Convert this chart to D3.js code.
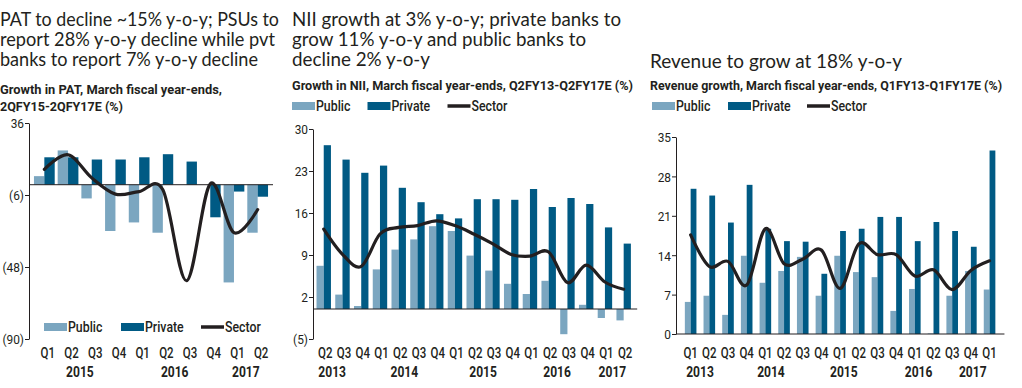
<!DOCTYPE html>
<html>
<head>
<meta charset="utf-8">
<script src="https://cdn.jsdelivr.net/npm/d3@7"></script>
<style>
  body { margin: 0; background: #fff; }
  svg { display: block; }
  .title { font-family: Lato, "Noto Sans", sans-serif; font-size: 19.5px; fill: #231f20; }
  .sub { font-family: Roboto, sans-serif; font-size: 13px; font-weight: bold; fill: #231f20; }
  .tick text { font-family: Roboto, sans-serif; font-size: 13.5px; fill: #231f20; }
  .qlab, .leg { font-family: Roboto, sans-serif; font-size: 14px; font-weight: 500; fill: #231f20; }
  .year { font-family: Roboto, sans-serif; font-size: 14px; font-weight: bold; fill: #231f20; }
</style>
</head>
<body>
<svg id="chart" width="1022" height="388"></svg>
<script>
"use strict";
// ---- PAT growth (%), 2QFY15-2QFY17E
const patQuarters = ["Q1","Q2","Q3","Q4","Q1","Q2","Q3","Q4","Q1","Q2"];
const patPublic  = [5, 20, -8, -27, -22, -28, 0, 0, -57, -28];
const patPrivate = [16, 16, 14.7, 14.7, 16, 17.8, 13.5, -19, -4, -7];
const patSector  = [9, 17.5, 4, -5.5, -4, -3, -56, 0.5, -28, -14.5];
const patYears   = ["2015", "2016", "2017"];
const patYearAt  = [1.5, 5.5, 8.5];
const patTicks   = [36, -6, -48, -90];

// ---- NII growth (%), Q2FY13-Q2FY17E
const niiQuarters = ["Q2","Q3","Q4","Q1","Q2","Q3","Q4","Q1","Q2","Q3","Q4","Q1","Q2","Q3","Q4","Q1","Q2"];
const niiPublic  = [7.2, 2.4, 0.5, 6.6, 9.9, 11.6, 13.8, 13.0, 8.9, 6.4, 4.2, 2.5, 4.7, -4.2, 0.7, -1.5, -1.9];
const niiPrivate = [27.3, 24.9, 22.7, 23.9, 20.2, 17.8, 15.8, 15.1, 18.3, 18.3, 18.2, 20.0, 17.0, 18.5, 17.5, 13.6, 10.9];
const niiSector  = [13.3, 9.1, 7.1, 12.5, 13.6, 13.9, 14.7, 13.9, 12.5, 10.9, 9.1, 8.8, 9.5, 4.4, 7.3, 4.5, 3.3];
const niiYears   = ["2013", "2014", "2015", "2016", "2017"];
const niiYearAt  = [0.45, 4.3, 8.5, 12.45, 15.4];
const niiTicks   = [30, 23, 16, 9, 2, -5];

// ---- Revenue growth (%), Q1FY13-Q1FY17E
const revQuarters = ["Q1","Q2","Q3","Q4","Q1","Q2","Q3","Q4","Q1","Q2","Q3","Q4","Q1","Q2","Q3","Q4","Q1"];
const revPublic  = [5.7, 6.8, 3.4, 13.9, 9.1, 11.2, 13.7, 6.8, 13.9, 11.0, 10.1, 4.1, 8.0, 0.1, 6.8, 11.2, 7.9];
const revPrivate = [25.8, 24.6, 19.8, 26.5, 18.7, 16.5, 16.4, 10.7, 18.3, 18.7, 20.8, 20.8, 16.5, 19.9, 18.3, 15.5, 32.6];
const revSector  = [17.6, 12.0, 12.9, 8.7, 18.7, 12.5, 13.3, 14.9, 8.1, 16.0, 14.1, 14.1, 10.3, 11.4, 7.9, 11.3, 13.0];
const revYears   = ["2013", "2014", "2015", "2016", "2017"];
const revYearAt  = [0.5, 4.3, 8.2, 12.2, 15.1];
const revTicks   = [35, 28, 21, 14, 7, 0];

const seriesNames = ["Public", "Private", "Sector"];
const colors = { Public: "#7ba6c0", Private: "#005a84", Sector: "#231f20" };

const svg = d3.select("#chart");
const fmt = v => v < 0 ? "(" + Math.abs(v) + ")" : String(v);

// the source uses a condensed face; squeeze the installed one to match
function squeeze(sel, f) {
  sel.each(function () {
    const w = this.getComputedTextLength();
    d3.select(this).attr("textLength", w * f).attr("lengthAdjust", "spacingAndGlyphs");
  });
}
function fitTo(sel, widths) {
  sel.each(function (d, i) {
    if (widths[i]) d3.select(this).attr("textLength", widths[i]).attr("lengthAdjust", "spacingAndGlyphs");
  });
}

function drawPanel(cfg) {
  const g = svg.append("g");
  const n = cfg.quarters.length;
  const idx = d3.range(n);

  // title + subtitle, one text per line
  cfg.title.forEach((line, i) => {
    const t = g.append("text").attr("class", "title")
      .attr("x", cfg.tx).attr("y", cfg.ty + i * 19.8).text(line);
    fitTo(t, [cfg.tw[i]]);
  });
  cfg.sub.forEach((line, i) => {
    const s = g.append("text").attr("class", "sub")
      .attr("x", cfg.tx).attr("y", cfg.sy + i * 16.5).text(line);
    fitTo(s, [cfg.sw[i]]);
  });

  const x = d3.scaleBand().domain(idx).range(cfg.xr).padding(cfg.pad);
  const x1 = d3.scaleBand().domain(["Public", "Private"]).range([0, x.bandwidth()]);
  const y = d3.scaleLinear().domain(cfg.yd).range(cfg.yr);
  const cx = i => x(0) + x.bandwidth() / 2 + i * x.step();

  // y axis
  g.append("g")
    .attr("transform", `translate(${cfg.ax},0)`)
    .call(d3.axisLeft(y).tickValues(cfg.ticks).tickFormat(fmt).tickSize(4).tickSizeOuter(0))
    .call(a => a.select(".domain").attr("stroke", "#231f20"))
    .call(a => a.selectAll(".tick line").attr("stroke", "#231f20"))
    .call(a => a.selectAll(".tick text").attr("x", -5).attr("dy", "0.36em"))
    .call(a => squeeze(a.selectAll(".tick text"), 0.88));

  // bars
  const bars = [["Public", cfg.pub], ["Private", cfg.pri]];
  bars.forEach(([name, vals]) => {
    g.append("g").selectAll("rect").data(vals).join("rect")
      .attr("x", (d, i) => x(i) + x1(name))
      .attr("width", x1.bandwidth())
      .attr("y", d => y(Math.max(0, d)))
      .attr("height", d => Math.abs(y(d) - y(0)))
      .attr("fill", colors[name]);
  });

  // zero line
  g.append("line")
    .attr("x1", cfg.ax).attr("x2", cfg.xr[1] + 2)
    .attr("y1", y(0)).attr("y2", y(0))
    .attr("stroke", "#231f20").attr("stroke-width", 1);

  // sector line
  const line = d3.line().x((d, i) => cx(i)).y(d => y(d)).curve(d3.curveCardinal);
  g.append("path").datum(cfg.sec)
    .attr("d", line).attr("fill", "none")
    .attr("stroke", colors.Sector).attr("stroke-width", 3.2)
    .attr("stroke-linejoin", "round").attr("stroke-linecap", "round");

  // quarter + year labels
  const q = g.append("g").selectAll("text").data(cfg.quarters).join("text")
    .attr("class", "qlab").attr("text-anchor", "middle")
    .attr("x", (d, i) => cx(i) + cfg.qdx).attr("y", 358)
    .text(d => d);
  squeeze(q, 0.82);
  const yr = g.append("g").selectAll("text").data(cfg.years).join("text")
    .attr("class", "year").attr("text-anchor", "middle")
    .attr("x", (d, i) => cx(cfg.yearAt[i])).attr("y", 377)
    .text(d => d);
  squeeze(yr, 0.86);

  // legend
  const leg = g.append("g").attr("transform", `translate(${cfg.lx},${cfg.ly})`);
  seriesNames.forEach((name, i) => {
    const o = leg.append("g").attr("transform", `translate(${cfg.lstep[i]},0)`);
    if (name === "Sector") {
      o.append("line").attr("x1", 0).attr("x2", 23).attr("y1", 0).attr("y2", 0)
        .attr("stroke", colors.Sector).attr("stroke-width", 3.5);
    } else {
      o.append("rect").attr("x", 0).attr("y", -4).attr("width", 23).attr("height", 8).attr("fill", colors[name]);
    }
    const lt = o.append("text").attr("class", "leg").attr("x", 24).attr("y", 5).text(name);
    squeeze(lt, 0.88);
  });
}

drawPanel({
  title: ["PAT to decline ~15% y-o-y; PSUs to", "report 28% y-o-y decline while pvt", "banks to report 7% y-o-y decline"],
  tw: [279, 275, 258],
  sub: ["Growth in PAT, March fiscal year-ends,", "2QFY15-2QFY17E (%)"],
  sw: [222, 123],
  tx: 0, ty: 26, sy: 94,
  quarters: patQuarters, pub: patPublic, pri: patPrivate, sec: patSector,
  years: patYears, yearAt: patYearAt, ticks: patTicks,
  xr: [31, 271], pad: 0.125, yd: [-90, 36], yr: [339, 123], ax: 29, qdx: 3.5,
  lx: 44, ly: 327, lstep: [0, 77, 157]
});
drawPanel({
  title: ["NII growth at 3% y-o-y; private banks to", "grow 11% y-o-y and public banks to", "decline 2% y-o-y"],
  tw: [329, 294, 138],
  sub: ["Growth in NII, March fiscal year-ends, Q2FY13-Q2FY17E (%)"],
  sw: [341],
  tx: 292, ty: 26, sy: 90,
  quarters: niiQuarters, pub: niiPublic, pri: niiPrivate, sec: niiSector,
  years: niiYears, yearAt: niiYearAt, ticks: niiTicks,
  xr: [312.2, 635.2], pad: 0.23, yd: [-5, 30], yr: [339, 129], ax: 313, qdx: 1.5,
  lx: 292, ly: 106, lstep: [0, 75.5, 155.5]
});
drawPanel({
  title: ["Revenue to grow at 18% y-o-y"],
  tw: [252],
  sub: ["Revenue growth, March fiscal year-ends, Q1FY13-Q1FY17E (%)"],
  sw: [352],
  tx: 650, ty: 68, sy: 90,
  quarters: revQuarters, pub: revPublic, pri: revPrivate, sec: revSector,
  years: revYears, yearAt: revYearAt, ticks: revTicks,
  xr: [677.75, 1002.45], pad: 0.38, yd: [0, 35], yr: [334, 137], ax: 676, qdx: 0,
  lx: 652, ly: 106, lstep: [0, 76, 155]
});
</script>
</body>
</html>
